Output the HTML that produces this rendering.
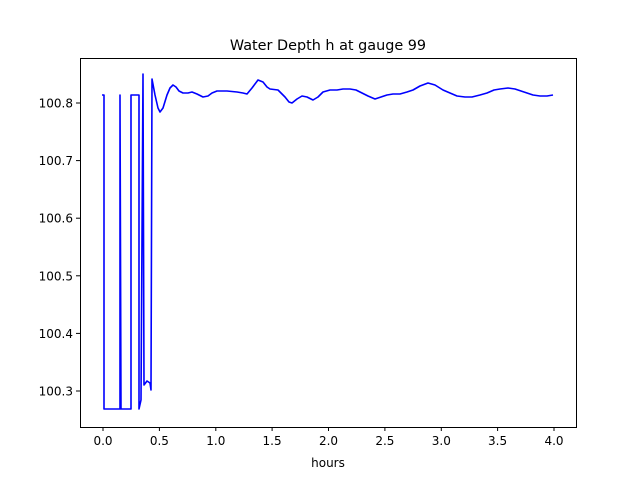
<!DOCTYPE html><html><head><style>body{margin:0;background:#fff}</style></head><body>
<svg width="640" height="480" xmlns="http://www.w3.org/2000/svg" font-family="DejaVu Sans, Liberation Sans, sans-serif">
<rect width="640" height="480" fill="#fff"/>
<text x="328" y="50" font-size="14.4" text-anchor="middle">Water Depth h at gauge 99</text>
<path d="M102,95 L104,95 L104,409 L120,409 L120,95 L121,409 L131,409 L131,95 L138,95 L139,95 L139,409 L141,400 L143,74 L144,385 L147,381 L150,383 L151,390 L152,79 L155,95 L158,108 L160,112 L163,108 L167,95 L170,88 L173,85 L176,87 L179,91 L183,93 L188,93 L192,92 L197,94 L203,97 L208,96 L212,93 L217,91 L227,91 L237,92 L243,93 L247,94 L252,88 L258,80 L263,82 L267,87 L270,89 L278,90 L285,97 L289,102 L292,103 L297,99 L302,96 L307,97 L313,100 L318,97 L323,92 L330,90 L337,90 L343,89 L350,89 L356,90 L360,92 L368,96 L375,99 L381,97 L387,95 L393,94 L400,94 L407,92 L413,90 L420,86 L428,83 L435,85 L443,90 L450,93 L457,96 L465,97 L472,97 L480,95 L487,93 L494,90 L500,89 L508,88 L515,89 L521,91 L527,93 L533,95 L540,96 L547,96 L553,95" fill="none" stroke="#0000ff" stroke-width="1.6" stroke-linejoin="round"/>
<rect x="80.5" y="58.5" width="496" height="369" fill="none" stroke="#000" stroke-width="1"/>
<g stroke="#000" stroke-width="1">
<line x1="103" y1="427" x2="103" y2="431"/><line x1="159.4" y1="427" x2="159.4" y2="431"/><line x1="215.8" y1="427" x2="215.8" y2="431"/><line x1="272.1" y1="427" x2="272.1" y2="431"/><line x1="328.5" y1="427" x2="328.5" y2="431"/><line x1="384.9" y1="427" x2="384.9" y2="431"/><line x1="441.3" y1="427" x2="441.3" y2="431"/><line x1="497.6" y1="427" x2="497.6" y2="431"/><line x1="554" y1="427" x2="554" y2="431"/>
<line x1="76" y1="391" x2="80" y2="391"/><line x1="76" y1="333.4" x2="80" y2="333.4"/><line x1="76" y1="275.8" x2="80" y2="275.8"/><line x1="76" y1="218.2" x2="80" y2="218.2"/><line x1="76" y1="160.6" x2="80" y2="160.6"/><line x1="76" y1="103" x2="80" y2="103"/>
</g>
<g font-size="12" text-anchor="middle">
<text x="103" y="445">0.0</text><text x="159.4" y="445">0.5</text><text x="215.8" y="445">1.0</text><text x="272.1" y="445">1.5</text><text x="328.5" y="445">2.0</text><text x="384.9" y="445">2.5</text><text x="441.3" y="445">3.0</text><text x="497.6" y="445">3.5</text><text x="554" y="445">4.0</text>
<text x="328" y="467">hours</text>
</g>
<g font-size="12" text-anchor="end">
<text x="73" y="395.5">100.3</text><text x="73" y="337.9">100.4</text><text x="73" y="280.3">100.5</text><text x="73" y="222.7">100.6</text><text x="73" y="165.1">100.7</text><text x="73" y="107.5">100.8</text>
</g>
</svg></body></html>
